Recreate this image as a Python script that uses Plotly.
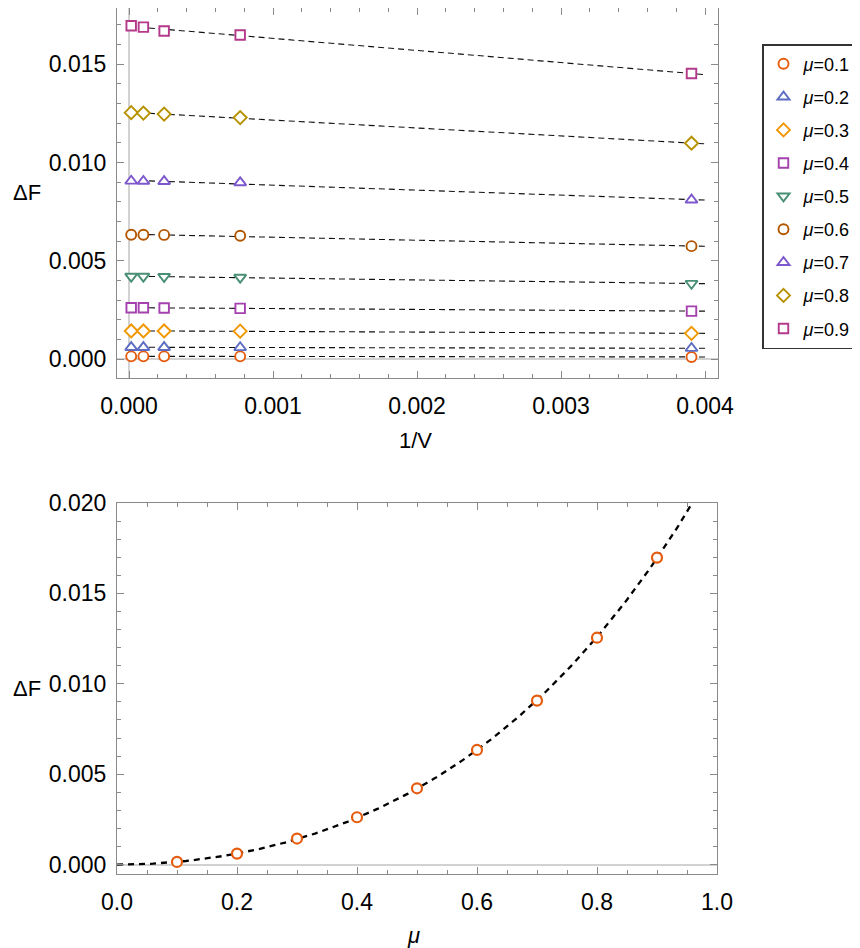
import numpy as np
import plotly.graph_objects as go

# ---------------- data ----------------
inv_V = [0.0000153, 0.0001, 0.000244, 0.000772, 0.003906]
mu_labels = ["0.1", "0.2", "0.3", "0.4", "0.5", "0.6", "0.7", "0.8", "0.9"]
dF_mu01 = [0.00015, 0.00015, 0.00015, 0.00015, 0.00012]
dF_mu02 = [0.00061, 0.00061, 0.00061, 0.00060, 0.00056]
dF_mu03 = [0.00144, 0.00144, 0.00144, 0.00143, 0.00132]
dF_mu04 = [0.00262, 0.00262, 0.00261, 0.00259, 0.00245]
dF_mu05 = [0.00421, 0.00421, 0.00420, 0.00416, 0.00385]
dF_mu06 = [0.00633, 0.00633, 0.00632, 0.00628, 0.00575]
dF_mu07 = [0.00906, 0.00905, 0.00904, 0.00898, 0.00810]
dF_mu08 = [0.01253, 0.01251, 0.01246, 0.01228, 0.01098]
dF_mu09 = [0.01695, 0.01688, 0.01668, 0.01648, 0.01452]

mu_values = [0.1, 0.2, 0.3, 0.4, 0.5, 0.6, 0.7, 0.8, 0.9]
dF_extrap = [0.00015, 0.00061, 0.00144, 0.00262, 0.00422, 0.00634, 0.00907, 0.01255, 0.01698]

top_x_ticks = [0.0, 0.001, 0.002, 0.003, 0.004]
top_y_ticks = [0.0, 0.005, 0.010, 0.015]
bot_x_ticks = [0.0, 0.2, 0.4, 0.6, 0.8, 1.0]
bot_y_ticks = [0.0, 0.005, 0.010, 0.015, 0.020]

series = [dF_mu01, dF_mu02, dF_mu03, dF_mu04, dF_mu05, dF_mu06, dF_mu07, dF_mu08, dF_mu09]

# ---------------- styles ----------------
colors = ["#E65C0E", "#5D6DC1", "#F19700", "#A540AF", "#498F73",
          "#B35600", "#7D58CC", "#B79100", "#B4398A"]
symbols = ["circle", "triangle-up", "diamond", "square",
           "triangle-down", "circle", "triangle-up", "diamond", "square"]
sizes = {"circle": 10, "triangle-up": 10.5, "triangle-down": 10.5,
         "diamond": 10, "square": 9.5}
FONT = "Liberation Sans, Arial, Helvetica, sans-serif"
FRAME = "#8a8a8a"
OFF = 8                      # page body margin of the browser
W, H = 860 - OFF, 948 - OFF  # figure size


def px_x(p):
    return (p - OFF) / W


def px_y(p):
    return min(1.0, max(0.0, 1 - (p - OFF) / H))


fig = go.Figure()

# fitted dashed lines (top panel), linear fits of each series
x_line = np.array([0.0, 0.004])
for ys in series:
    k, c = np.polyfit(inv_V, ys, 1)
    fig.add_trace(go.Scatter(x=x_line, y=k * x_line + c, mode="lines",
                             line=dict(color="#111", width=1.1, dash="6px,4px"),
                             showlegend=False, hoverinfo="skip", xaxis="x", yaxis="y"))

# markers (top panel)
for i, ys in enumerate(series):
    fig.add_trace(go.Scatter(x=inv_V, y=ys, mode="markers",
                             name="<i>μ</i>=" + mu_labels[i],
                             legendgroup="g%d" % i,
                             marker=dict(symbol=symbols[i], size=sizes[symbols[i]], color="white",
                                         line=dict(width=1.9, color=colors[i])),
                             xaxis="x", yaxis="y"))

# bottom panel: fit a*mu^2 + b*mu^4
mu_arr = np.array(mu_values)
A = np.vstack([mu_arr ** 2, mu_arr ** 4]).T
coef, *_ = np.linalg.lstsq(A, np.array(dF_extrap), rcond=None)
mu_fine = np.linspace(0, 1, 201)
fig.add_trace(go.Scatter(x=mu_fine, y=coef[0] * mu_fine ** 2 + coef[1] * mu_fine ** 4,
                         mode="lines", line=dict(color="black", width=2.3, dash="6px,5px"),
                         showlegend=False, hoverinfo="skip", xaxis="x2", yaxis="y2"))
fig.add_trace(go.Scatter(x=mu_values, y=dF_extrap, mode="markers", showlegend=False,
                         marker=dict(symbol="circle", size=10, color="white",
                                     line=dict(width=2.2, color=colors[0])),
                         xaxis="x2", yaxis="y2"))


def ax(domain, rng, tickvals, fmt, minor_dtick, anchor, zeroline, standoff):
    return dict(domain=domain, range=rng, anchor=anchor, tickvals=tickvals, tickformat=fmt,
                showgrid=False, zeroline=zeroline, zerolinecolor="#d2d2d2", zerolinewidth=1.5,
                showline=True, linecolor=FRAME, linewidth=1, mirror="allticks",
                ticks="inside", ticklen=7, tickwidth=1, tickcolor=FRAME,
                minor=dict(ticks="inside", ticklen=4, tickwidth=1, tickcolor=FRAME,
                           dtick=minor_dtick, showgrid=False),
                tickfont=dict(family=FONT, size=23, color="black"),
                ticklabelstandoff=standoff)


fig.update_layout(
    width=W, height=H,
    margin=dict(l=0, r=0, t=0, b=0, autoexpand=False),
    paper_bgcolor="white", plot_bgcolor="white",
    font=dict(family=FONT, color="black"),
    xaxis=ax([px_x(117), px_x(718)], [-0.0000833, 0.00409], top_x_ticks, ".3f", 0.0002, "y", True, 7),
    yaxis=ax([px_y(378), px_y(7)], [-0.00095, 0.01785], top_y_ticks, ".3f", 0.001, "x", True, 5),
    xaxis2=ax([px_x(117), px_x(717)], [0, 1.0], bot_x_ticks, ".1f", 0.05, "y2", False, 7),
    yaxis2=ax([px_y(874), px_y(503)], [-0.00052, 0.020], bot_y_ticks, ".3f", 0.001, "x2", True, 5),
    legend=dict(x=px_x(762), y=px_y(44), xanchor="left", yanchor="top",
                bordercolor="#333", borderwidth=1.5, bgcolor="white",
                font=dict(family=FONT, size=18, color="black"),
                tracegroupgap=6.7, itemsizing="trace"),
    showlegend=True,
)

anns = [
    ("ΔF", 27, 193),
    ("1/V", 415, 440),
    ("ΔF", 27, 688),
    ("<i>μ</i>", 413, 935),
]
for text, px, py in anns:
    fig.add_annotation(text=text, x=px_x(px), y=px_y(py), xref="paper", yref="paper",
                       showarrow=False, xanchor="center", yanchor="middle",
                       font=dict(family=FONT, size=22, color="black"))

fig.write_html("out.html")
